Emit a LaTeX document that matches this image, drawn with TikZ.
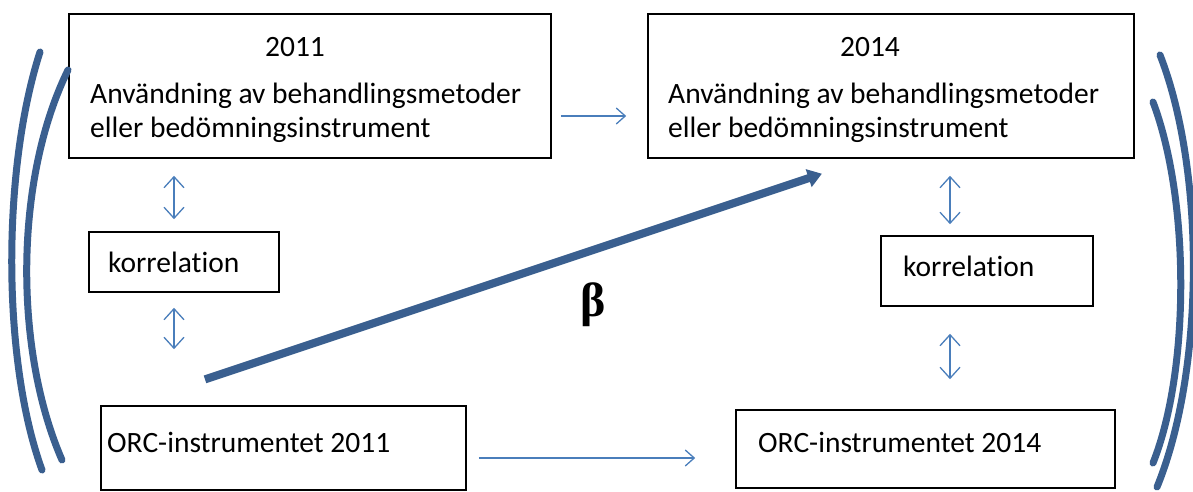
\documentclass[tikz,border=0pt]{standalone}
\usepackage{fontspec}
\setmainfont{Carlito}[Ligatures={NoCommon,NoContextual}]
\newfontfamily\betafont{Liberation Serif}
\usetikzlibrary{arrows.meta}
\definecolor{darkblue}{HTML}{3A5F8F}
\definecolor{lightblue}{HTML}{4A7EBB}
\tikzset{
  box/.style={draw=black, line width=1.6pt, minimum width=#1, inner sep=0pt},
  lbl/.style={anchor=base west, inner sep=0pt, font=\fontsize{29.5}{34}\selectfont},
  tarrow/.style={draw=lightblue, line width=1.3pt, -{Straight Barb[length=9pt,width=16pt]}},
  darrow/.style={draw=lightblue, line width=1.3pt, {Straight Barb[length=11pt,width=20pt]}-{Straight Barb[length=11pt,width=20pt]}},
  thick arrow/.style={draw=darkblue, line width=8pt, -{Triangle[length=14pt,width=18pt]}},
  brack/.style={draw=darkblue, line width=7pt, line cap=round}
}
\begin{document}
\begin{tikzpicture}[x=1pt,y=-1pt]
\useasboundingbox[fill=white] (0,0) rectangle (1193,492);
% boxes
\node[box=482pt, minimum height=144pt] (tl) at (310,86) {};
\node[box=486pt, minimum height=144pt] (tr) at (891,86) {};
\node[box=190pt, minimum height=60pt] (kl) at (184,262) {};
\node[box=212pt, minimum height=70pt] (kr) at (987,271) {};
\node[box=365pt, minimum height=84pt] (ol) at (283.5,448) {};
\node[box=379pt, minimum height=78pt] (or) at (925.5,449) {};
% texts
\node[lbl, anchor=base] (t1) at (295,57) {2011};
\node[lbl] (t2) at (90,103) {Användning av behandlingsmetoder};
\node[lbl] (t3) at (90,138) {eller bedömningsinstrument};
\node[lbl, anchor=base] (t4) at (870,57) {2014};
\node[lbl] (t5) at (668,103) {Användning av behandlingsmetoder};
\node[lbl] (t6) at (668,138) {eller bedömningsinstrument};
\node[lbl] (t7) at (108,272) {korrelation};
\node[lbl] (t8) at (903,276) {korrelation};
\node[lbl] (t9) at (107,452) {ORC-instrumentet 2011};
\node[lbl] (t10) at (758,452) {ORC-instrumentet 2014};
\node[inner sep=0pt, anchor=base, font=\betafont\bfseries\fontsize{48}{54}\selectfont] (beta) at (593,316) {β};
% connectors
\draw[tarrow, shorten <=9pt, shorten >=21pt] (tl.east |- 0,116) -- (tr.west |- 0,116);
\draw[tarrow, shorten <=12pt, shorten >=40pt] (ol.east |- 0,458) -- (or.west |- 0,458);
\draw[darrow, shorten <=17pt, shorten >=12pt] (tl.south -| 174,0) -- (kl.north -| 174,0);
\draw[darrow, shorten <=15pt, shorten >=56pt] (kl.south -| 174,0) -- (ol.north -| 174,0);
\draw[darrow, shorten <=17pt, shorten >=11pt] (tr.south -| 950,0) -- (kr.north -| 950,0);
\draw[darrow, shorten <=27pt, shorten >=30pt] (kr.south -| 950,0) -- (or.north -| 950,0);
\draw[thick arrow, shorten <=81.7pt, shorten >=47.2pt] (ol.north -| 127.5,0) -- (tr.south -| 866.7,0);
% brackets
\draw[brack] (40,52) .. controls (2,170) and (2,360) .. (42,470);
\draw[brack] (68,70) .. controls (14,180) and (14,350) .. (62,460);
\draw[brack] (1160,55) .. controls (1205,170) and (1205,370) .. (1157,487);
\draw[brack] (1153,102) .. controls (1190,200) and (1190,370) .. (1153,463);
\end{tikzpicture}
\end{document}
